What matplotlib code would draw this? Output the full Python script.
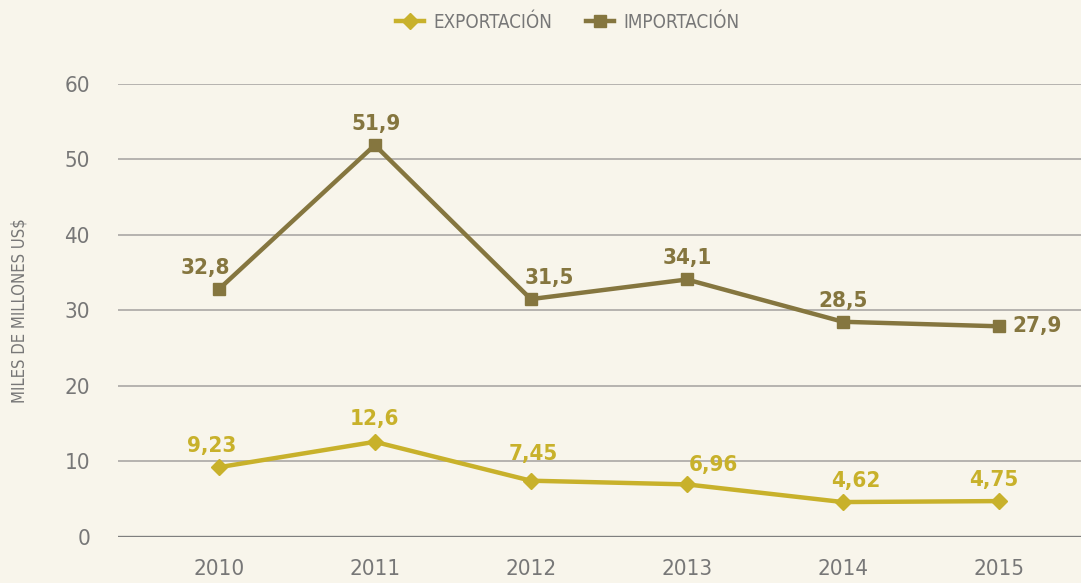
import matplotlib
matplotlib.use("Agg")
import matplotlib.pyplot as plt
from matplotlib.lines import Line2D
from matplotlib import font_manager as fm

years = ["2010", "2011", "2012", "2013", "2014", "2015"]
exportacion = [9.23, 12.6, 7.45, 6.96, 4.62, 4.75]
importacion = [32.8, 51.9, 31.5, 34.1, 28.5, 27.9]
export_labels = ["9,23", "12,6", "7,45", "6,96", "4,62", "4,75"]
import_labels = ["32,8", "51,9", "31,5", "34,1", "28,5", "27,9"]
yticks = [0, 10, 20, 30, 40, 50, 60]

names = {f.name for f in fm.fontManager.ttflist}
if "Liberation Sans Narrow" in names:
    FONT = dict(family="Liberation Sans Narrow")
else:
    FONT = dict(family="DejaVu Sans", stretch="condensed")

BG = "#f8f5eb"
C_EXP = "#c8b12b"
C_IMP = "#85763f"
C_TXT = "#777777"

fig = plt.figure(figsize=(10.81, 5.83), dpi=100, facecolor=BG)
ax = fig.add_axes([0.109, 0.079, 0.891, 0.777], facecolor=BG)

x = list(range(len(years)))
ax.plot(x, importacion, color=C_IMP, lw=3.2, marker="s", ms=9, zorder=3)
ax.plot(x, exportacion, color=C_EXP, lw=3.2, marker="D", ms=8, zorder=3)

ax.set_xlim(-0.647, 5.526)
ax.set_ylim(0, 60)
ax.set_yticks(yticks)
ax.set_xticks(x)
ax.set_xticklabels(years)
for t in yticks[1:]:
    ax.axhline(t, color="#b0adaa", lw=1.3, zorder=1)
ax.axhline(0, color="#7f7f7f", lw=2.4, zorder=1)
for s in ax.spines.values():
    s.set_visible(False)
ax.tick_params(length=0, labelsize=16, labelcolor=C_TXT)
ax.tick_params(axis="y", pad=20)
ax.tick_params(axis="x", pad=16)
for lab in ax.get_xticklabels() + ax.get_yticklabels():
    lab.set_fontproperties(fm.FontProperties(size=16, **FONT))

ax.set_ylabel("MILES DE MILLONES US$", fontsize=12, color=C_TXT, labelpad=26, **FONT)

imp_off = [(-10, 8), (1, 8), (13, 8), (0, 8), (0, 8), (10, 0)]
exp_off = [(-5, 8), (0, 9), (2, 12), (19, 7), (9, 8), (-4, 8)]
for i, (v, l) in enumerate(zip(importacion, import_labels)):
    dx, dy = imp_off[i]
    ax.annotate(l, (i, v), xytext=(dx, dy), textcoords="offset points",
                ha="center" if dy else "left", va="bottom" if dy else "center",
                color=C_IMP, fontsize=16, fontweight="bold", **FONT)
for i, (v, l) in enumerate(zip(exportacion, export_labels)):
    dx, dy = exp_off[i]
    ax.annotate(l, (i, v), xytext=(dx, dy), textcoords="offset points",
                ha="center", va="bottom", color=C_EXP, fontsize=16,
                fontweight="bold", **FONT)

handles = [Line2D([], [], color=C_EXP, lw=3.2, marker="D", ms=8),
           Line2D([], [], color=C_IMP, lw=3.2, marker="s", ms=9)]
leg = fig.legend(handles, ["EXPORTACIÓN", "IMPORTACIÓN"], loc="center",
                 bbox_to_anchor=(0.525, 0.962), ncol=2, frameon=False,
                 handlelength=1.5, columnspacing=1.8, handletextpad=0.5,
                 prop=fm.FontProperties(size=13.5, **FONT))
for t in leg.get_texts():
    t.set_color(C_TXT)

fig.savefig("out.png", dpi=100, facecolor=BG)
